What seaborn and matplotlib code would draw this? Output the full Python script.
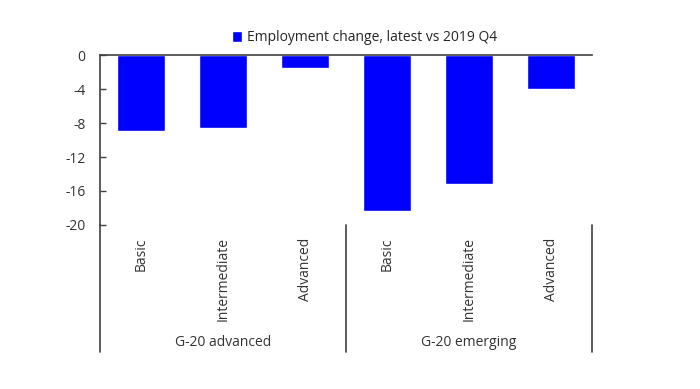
import pandas as pd
import matplotlib.pyplot as plt
import matplotlib.transforms as mtransforms
import seaborn as sns

groups = ["G-20 advanced"] * 3 + ["G-20 emerging"] * 3
skills = ["Basic", "Intermediate", "Advanced"] * 2
change = [-8.9, -8.55, -1.5, -18.3, -15.2, -4.0]
series_name = "Employment change, latest vs 2019 Q4"

df = pd.DataFrame({"group": groups, "skill": skills, "value": change})
df["pos"] = [f"{g}|{s}" for g, s in zip(groups, skills)]

sns.set_theme(style="white")
plt.rcParams['font.family'] = ['Open Sans', 'DejaVu Sans']

fig = plt.figure(figsize=(7, 3.89), dpi=100)
ax = fig.add_axes([0.143, 0.4216, 0.703, 0.437])

sns.barplot(data=df, x="pos", y="value", color="#0000ff", saturation=1,
            width=0.59, ax=ax, label=series_name)

ax.set_ylim(-20, 0)
ax.set_xlim(-0.5, 5.5)
ax.set_yticks([0, -4, -8, -12, -16, -20])
ax.set_yticklabels(["0", "-4", "-8", "-12", "-16", "-20"])
ax.set_xticks(range(6))
ax.set_xticklabels(skills, rotation=90, va="top", ha="center")
ax.set_xlabel("")
ax.set_ylabel("")
ax.tick_params(axis="y", left=True, direction="in", length=4, width=1, color="#404040",
               labelsize=10, labelcolor="#333333", pad=10.5)
ax.tick_params(axis="x", bottom=False, labelsize=10, labelcolor="#333333", pad=3)

for side in ["bottom", "right"]:
    ax.spines[side].set_visible(False)
ax.spines["top"].set_color("#404040")
ax.spines["left"].set_color("#404040")
ax.spines["top"].set_linewidth(1.2)
ax.spines["left"].set_linewidth(1.2)

# group separators below the plot
trans = mtransforms.blended_transform_factory(ax.transData, ax.transAxes)
bottom = -0.747
ax.plot([-0.5, -0.5], [0, bottom], transform=trans, color="#404040", lw=1.2, clip_on=False)
for xb in [2.5, 5.5]:
    ax.plot([xb, xb], [0, bottom], transform=trans, color="#404040", lw=1.2, clip_on=False)
for xc, name in [(1, "G-20 advanced"), (4, "G-20 emerging")]:
    ax.text(xc, -0.69, name, transform=trans, ha="center", va="center",
            fontsize=10, color="#333333")

ax.legend(loc="lower center", bbox_to_anchor=(0.537, 1.0), frameon=False,
          fontsize=10, handlelength=0.75, handleheight=0.75, handletextpad=0.3,
          borderaxespad=0.3)

fig.savefig("out.png", dpi=100)
